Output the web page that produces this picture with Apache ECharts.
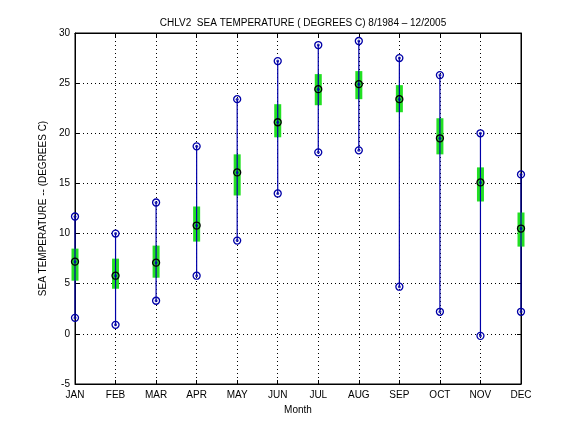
<!DOCTYPE html>
<html>
<head>
<meta charset="utf-8">
<script src="https://cdn.jsdelivr.net/npm/echarts@6/dist/echarts.min.js"></script>
<style>
html,body{margin:0;padding:0;background:#fff;}
#main{width:576px;height:432px;}
</style>
</head>
<body>
<div id="main"></div>
<script>
var months = ['JAN','FEB','MAR','APR','MAY','JUN','JUL','AUG','SEP','OCT','NOV','DEC'];
var maxT  = [11.7, 10.0, 13.1, 18.7, 23.4, 27.2, 28.8, 29.2, 27.5, 25.8, 20.0, 15.9];
var meanT = [7.2, 5.8, 7.1, 10.8, 16.1, 21.1, 24.4, 24.9, 23.4, 19.5, 15.1, 10.5];
var minT  = [1.6, 0.9, 3.3, 5.8, 9.3, 14.0, 18.1, 18.3, 4.7, 2.2, -0.2, 2.2];
var boxHi = [8.5, 7.5, 8.8, 12.7, 17.9, 22.9, 25.9, 26.2, 24.8, 21.5, 16.6, 12.1];
var boxLo = [5.3, 4.5, 5.6, 9.2, 13.8, 19.6, 22.8, 23.4, 22.1, 17.9, 13.2, 8.7];
var yTicks = [-5, 0, 5, 10, 15, 20, 25, 30];

var fontName = 'Liberation Sans';
var lineBlue = '#0000a8';
var boxGreen = '#22e022';

// 每个月一条竖线 + 绿色方框
var rangeData = [];
var extremeData = [];
var meanData = [];
for (var i = 0; i < months.length; i++) {
    rangeData.push([i + 1, minT[i], maxT[i], boxLo[i], boxHi[i]]);
    extremeData.push([i + 1, maxT[i]]);
    extremeData.push([i + 1, minT[i]]);
    meanData.push([i + 1, meanT[i]]);
}

function renderRange(params, api) {
    var x = api.value(0);
    var pMin = api.coord([x, api.value(1)]);
    var pMax = api.coord([x, api.value(2)]);
    var pLo = api.coord([x, api.value(3)]);
    var pHi = api.coord([x, api.value(4)]);
    var w = 7;
    return {
        type: 'group',
        children: [{
            type: 'rect',
            shape: {x: pHi[0] - w / 2, y: pHi[1], width: w, height: pLo[1] - pHi[1]},
            style: {fill: boxGreen}
        }, {
            type: 'line',
            shape: {x1: pMin[0], y1: pMin[1], x2: pMax[0], y2: pMax[1]},
            style: {stroke: lineBlue, lineWidth: 1.2}
        }]
    };
}

var axisText = {color: '#000', fontFamily: fontName, fontSize: 10};
var gridLine = {show: true, lineStyle: {color: '#000', type: [1, 3], width: 1}};

var option = {
    backgroundColor: '#fff',
    animation: false,
    title: {
        text: 'CHLV2  SEA TEMPERATURE ( DEGREES C) 8/1984 \u2013 12/2005',
        left: 298, top: 13, textAlign: 'center',
        textStyle: {fontFamily: fontName, fontSize: 10, fontWeight: 'normal', color: '#000'}
    },
    grid: {left: 75, right: 55, top: 33, bottom: 48, show: true, borderColor: '#000', borderWidth: 1, backgroundColor: '#fff'},
    xAxis: [{
        type: 'value', min: 1, max: 12, interval: 1,
        name: 'Month', nameLocation: 'middle', nameGap: 17,
        nameTextStyle: axisText,
        axisLine: {show: true, onZero: false, lineStyle: {color: '#000'}},
        axisTick: {show: true, inside: true, length: 4, lineStyle: {color: '#000'}},
        axisLabel: Object.assign({margin: 6, formatter: function (v) { return months[v - 1] || ''; }}, axisText),
        splitLine: gridLine
    }, {
        type: 'value', min: 1, max: 12, interval: 1, position: 'top',
        axisLine: {show: true, onZero: false, lineStyle: {color: '#000'}},
        axisTick: {show: true, inside: true, length: 4, lineStyle: {color: '#000'}},
        axisLabel: {show: false}, splitLine: {show: false}
    }],
    yAxis: [{
        type: 'value', min: yTicks[0], max: yTicks[yTicks.length - 1], interval: 5,
        name: 'SEA TEMPERATURE -- (DEGREES C)', nameLocation: 'middle', nameGap: 22,
        nameTextStyle: axisText,
        axisLine: {show: true, onZero: false, lineStyle: {color: '#000'}},
        axisTick: {show: true, inside: true, length: 4, lineStyle: {color: '#000'}},
        axisLabel: Object.assign({margin: 5}, axisText),
        splitLine: gridLine
    }, {
        type: 'value', min: yTicks[0], max: yTicks[yTicks.length - 1], interval: 5, position: 'right',
        axisLine: {show: true, onZero: false, lineStyle: {color: '#000'}},
        axisTick: {show: true, inside: true, length: 4, lineStyle: {color: '#000'}},
        axisLabel: {show: false}, splitLine: {show: false}
    }],
    series: [{
        type: 'custom', renderItem: renderRange, data: rangeData,
        encode: {x: 0, y: [1, 2]}, z: 2
    }, {
        type: 'scatter', data: extremeData, symbol: 'circle', symbolSize: 7,
        itemStyle: {color: 'rgba(0,0,0,0)', borderColor: lineBlue, borderWidth: 1.3, opacity: 1}, z: 3
    }, {
        type: 'scatter', data: extremeData, symbol: 'circle', symbolSize: 3,
        itemStyle: {color: lineBlue}, z: 4
    }, {
        type: 'scatter', data: meanData, symbol: 'circle', symbolSize: 7,
        itemStyle: {color: 'rgba(0,0,0,0)', borderColor: '#000', borderWidth: 1.3, opacity: 1}, z: 3
    }, {
        type: 'scatter', data: meanData, symbol: 'circle', symbolSize: 3,
        itemStyle: {color: lineBlue}, z: 4
    }]
};

var myCharts = echarts.init(document.getElementById('main'));
myCharts.setOption(option);
</script>
</body>
</html>
